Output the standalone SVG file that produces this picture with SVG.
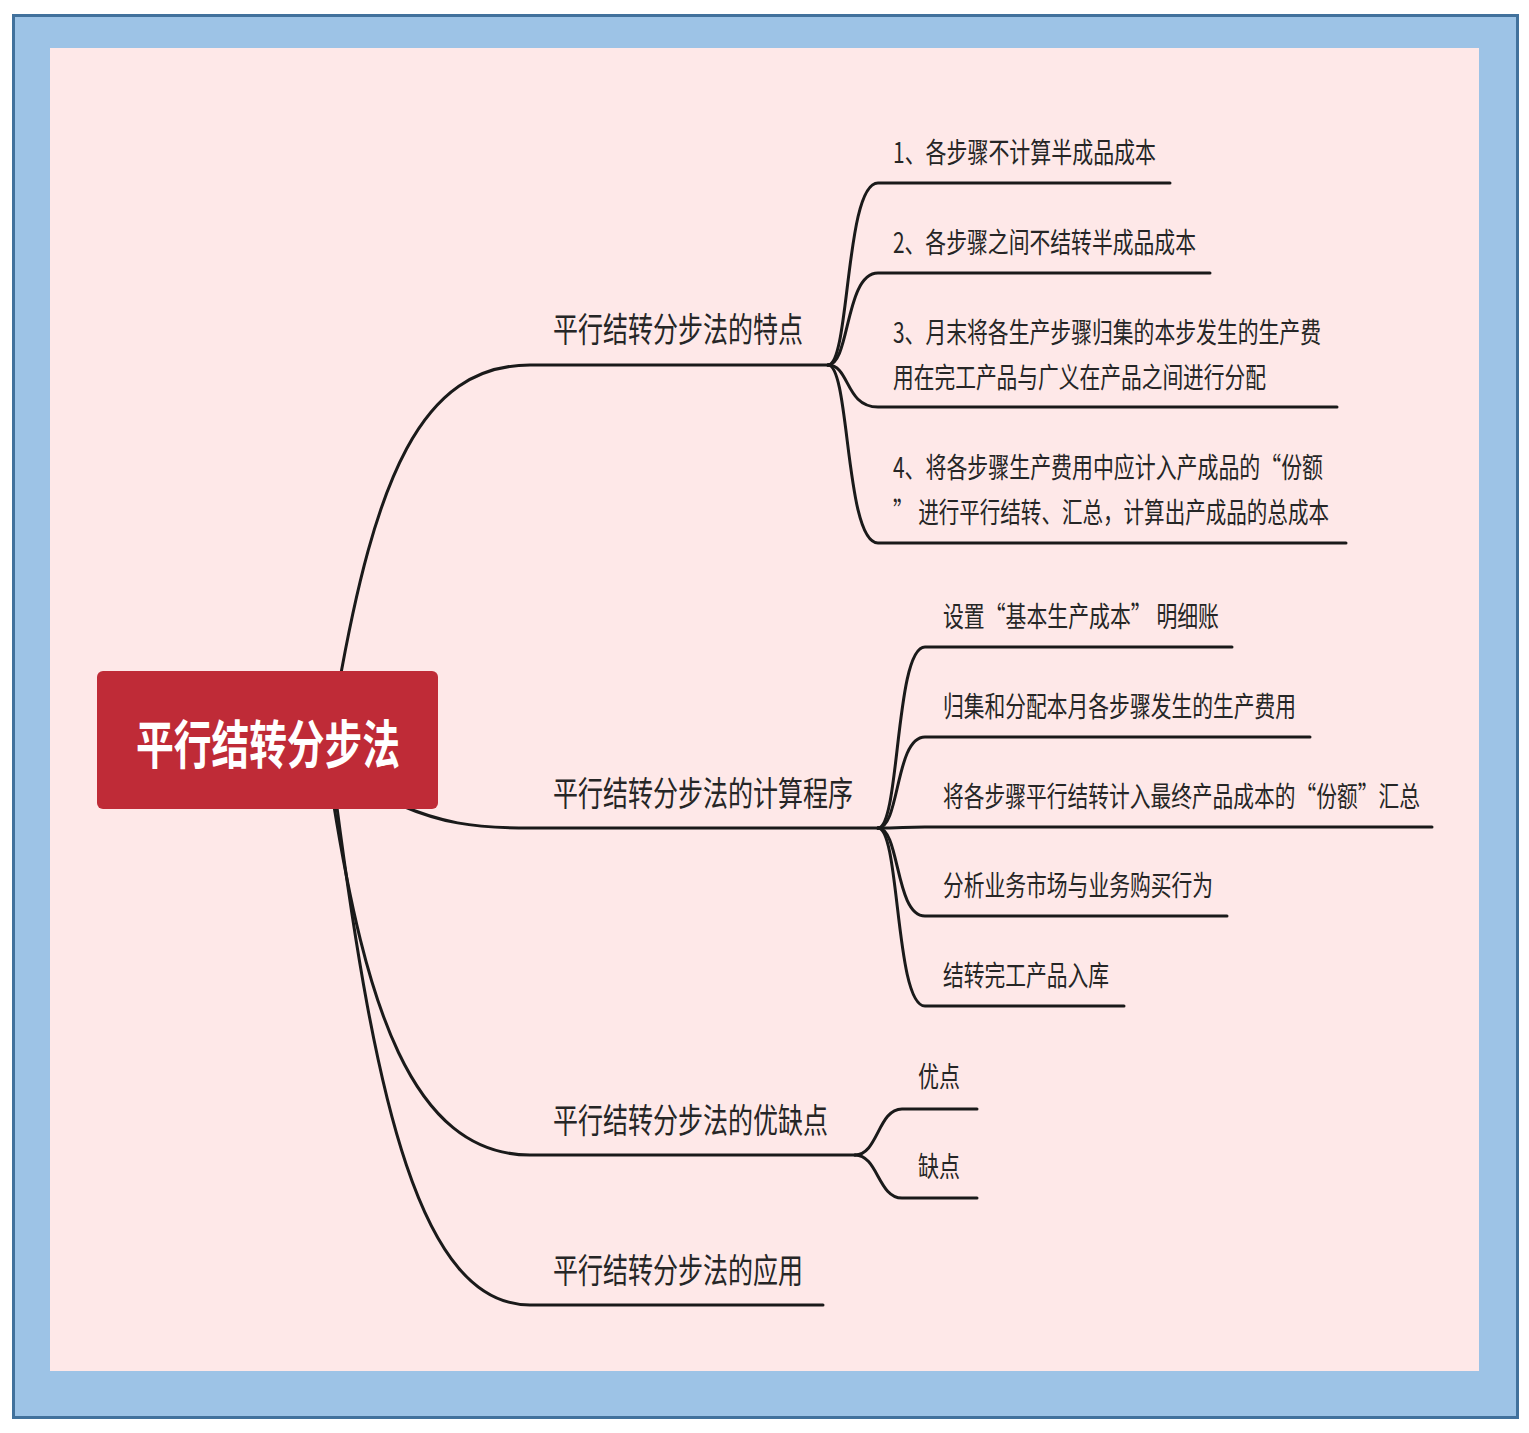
<svg xmlns="http://www.w3.org/2000/svg" width="1529" height="1433" viewBox="0 0 1529 1433">
<style>
.t{font-family:"Noto Sans CJK SC","Noto Sans",sans-serif;fill:#262626;}
.b{font-size:34px;}
.l{font-size:28px;}
.c{fill:none;stroke:#1a1a1a;stroke-width:3;stroke-linecap:round;}
.r{font-family:"Noto Sans CJK SC","Noto Sans",sans-serif;font-size:52px;font-weight:bold;fill:#ffffff;}
</style>
<rect x="0" y="0" width="1529" height="1433" fill="#ffffff"/>
<rect x="13.5" y="15.5" width="1504" height="1402" fill="#9dc3e6" stroke="#41719c" stroke-width="3"/>
<rect x="50" y="48" width="1429" height="1323" fill="#fee8e8"/>
<g id="connectors">
<path class="c" d="M338,690 C375,480 420,365 530,365 L828,365"/>
<path class="c" d="M400,805 C440,822 470,828 530,828 L878,828"/>
<path class="c" d="M333,800 C365,1000 410,1155 530,1155 L855,1155"/>
<path class="c" d="M336,800 C375,1100 420,1305 530,1305 L823,1305"/>
<path class="c" d="M828,365 C850,365 845,183 878,183 L1170,183"/>
<path class="c" d="M828,365 C850,365 845,273 878,273 L1210,273"/>
<path class="c" d="M828,365 C850,365 845,407 878,407 L1337,407"/>
<path class="c" d="M828,365 C850,365 845,543 878,543 L1346,543"/>
<path class="c" d="M878,828 C900,828 895,647 925,647 L1232,647"/>
<path class="c" d="M878,828 C900,828 895,737 925,737 L1310,737"/>
<path class="c" d="M878,828 C900,828 905,827 925,827 L1432,827"/>
<path class="c" d="M878,828 C900,828 895,916 925,916 L1227,916"/>
<path class="c" d="M878,828 C900,828 895,1006 925,1006 L1124,1006"/>
<path class="c" d="M855,1155 C878,1155 878,1109 902,1109 L977,1109"/>
<path class="c" d="M855,1155 C878,1155 878,1198 902,1198 L977,1198"/>
</g>
<g id="root">
<rect x="97" y="671" width="341" height="138" rx="6" fill="#bf2b37"/>
<text class="r" x="136" y="764" textLength="264" lengthAdjust="spacingAndGlyphs">平行结转分步法</text>
</g>
<g id="b1"><text class="t b" x="553" y="342" textLength="250" lengthAdjust="spacingAndGlyphs">平行结转分步法的特点</text></g>
<g id="b2"><text class="t b" x="553" y="806" textLength="300" lengthAdjust="spacingAndGlyphs">平行结转分步法的计算程序</text></g>
<g id="b3"><text class="t b" x="553" y="1133" textLength="275" lengthAdjust="spacingAndGlyphs">平行结转分步法的优缺点</text></g>
<g id="b4"><text class="t b" x="553" y="1283" textLength="250" lengthAdjust="spacingAndGlyphs">平行结转分步法的应用</text></g>
<g id="l11"><text class="t l" x="893" y="163" textLength="263" lengthAdjust="spacingAndGlyphs">1、各步骤不计算半成品成本</text></g>
<g id="l12"><text class="t l" x="893" y="253" textLength="303" lengthAdjust="spacingAndGlyphs">2、各步骤之间不结转半成品成本</text></g>
<g id="l13">
<text class="t l" x="893" y="343" textLength="428" lengthAdjust="spacingAndGlyphs">3、月末将各生产步骤归集的本步发生的生产费</text>
<text class="t l" x="893" y="388" textLength="373" lengthAdjust="spacingAndGlyphs">用在完工产品与广义在产品之间进行分配</text>
</g>
<g id="l14">
<text class="t l" x="893" y="478" textLength="430" lengthAdjust="spacingAndGlyphs">4、将各步骤生产费用中应计入产成品的“份额</text>
<text class="t l" x="893" y="523" textLength="436" lengthAdjust="spacingAndGlyphs">” 进行平行结转、汇总，计算出产成品的总成本</text>
</g>
<g id="l21"><text class="t l" x="943" y="627" textLength="276" lengthAdjust="spacingAndGlyphs">设置“基本生产成本” 明细账</text></g>
<g id="l22"><text class="t l" x="943" y="717" textLength="353" lengthAdjust="spacingAndGlyphs">归集和分配本月各步骤发生的生产费用</text></g>
<g id="l23"><text class="t l" x="943" y="807" textLength="477" lengthAdjust="spacingAndGlyphs">将各步骤平行结转计入最终产品成本的“份额”汇总</text></g>
<g id="l24"><text class="t l" x="943" y="896" textLength="270" lengthAdjust="spacingAndGlyphs">分析业务市场与业务购买行为</text></g>
<g id="l25"><text class="t l" x="943" y="986" textLength="166" lengthAdjust="spacingAndGlyphs">结转完工产品入库</text></g>
<g id="l31"><text class="t l" x="918" y="1087" textLength="42" lengthAdjust="spacingAndGlyphs">优点</text></g>
<g id="l32"><text class="t l" x="918" y="1177" textLength="42" lengthAdjust="spacingAndGlyphs">缺点</text></g>
</svg>
